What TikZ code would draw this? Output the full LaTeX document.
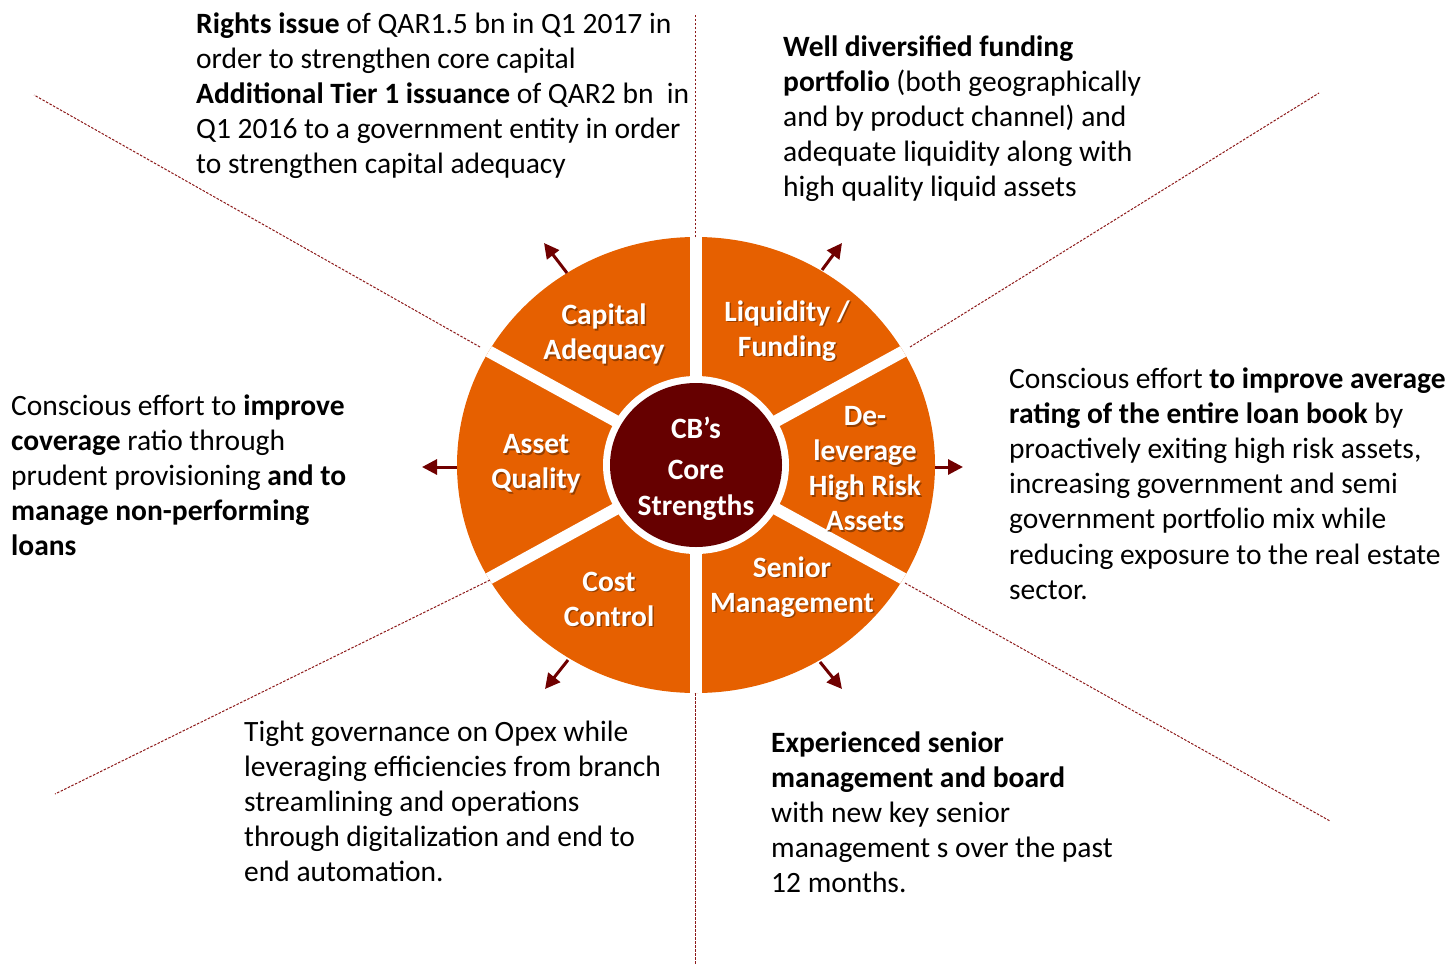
\documentclass[tikz,border=0pt]{standalone}
\usepackage{fontspec}
\setmainfont{Carlito}
\usetikzlibrary{arrows.meta}
\definecolor{orng}{RGB}{230,96,0}
\definecolor{core}{RGB}{102,0,0}
\definecolor{arr}{RGB}{112,0,0}
\definecolor{dotc}{RGB}{140,25,25}
\tikzset{
 body/.style={font=\fontsize{29.5}{35.2}\selectfont, inner sep=0pt, anchor=base west, text=black},
 seclabel/.style={font=\fontsize{29.5}{35}\selectfont\bfseries, text=white, align=center, inner sep=0pt},
 guide/.style={draw=dotc, line width=1pt, dash pattern=on 2.5pt off 1.5pt},
 outarrow/.style={draw=arr, line width=3pt, -{Triangle[length=15pt,width=15pt]}},
 gapline/.style={draw=white, line width=12pt},
}
\newcommand\seclbl[3]{%
 \node[seclabel, text=black, opacity=0.35] (#1-sh) at ([xshift=1.5pt,yshift=-1.5pt]#2) {#3};
 \node[seclabel] (#1) at (#2) {#3};}
\begin{document}
\begin{tikzpicture}[x=1pt,y=-1pt]
\useasboundingbox (0,0) rectangle (1448,967);
\coordinate (c) at (696,465);
% wheel
\fill[orng] (c) ellipse [x radius=239pt, y radius=228pt];
\begin{scope}
 \clip (c) ellipse [x radius=239pt, y radius=228pt];
 \draw[gapline] (c) -- (924,340);
 \draw[gapline] (c) -- (696,214);
 \draw[gapline] (c) -- (468,340);
 \draw[gapline] (c) -- (468,590);
 \draw[gapline] (c) -- (696,716);
 \draw[gapline] (c) -- (924,590);
\end{scope}
\fill[white] (c) ellipse [x radius=93pt, y radius=89pt];
\fill[core] (c) ellipse [x radius=86pt, y radius=82pt];
% guide lines
\coordinate (g1a) at (695,237); \coordinate (g1b) at (695,15);
\coordinate (g2a) at (695,693); \coordinate (g2b) at (695,965);
\coordinate (g3a) at (480,347); \coordinate (g3b) at (34,95);
\coordinate (g4a) at (910,347); \coordinate (g4b) at (1319,93);
\coordinate (g5a) at (490,580); \coordinate (g5b) at (55,794);
\coordinate (g6a) at (905,583); \coordinate (g6b) at (1330,821);
\foreach \i in {1,...,6} \draw[guide] (g\i a) -- (g\i b);
% arrows
\coordinate (a1t) at (567,273); \coordinate (a1h) at (544,243);
\coordinate (a2t) at (822,270); \coordinate (a2h) at (842,243);
\coordinate (a3t) at (935,467); \coordinate (a3h) at (963,467);
\coordinate (a4t) at (457,467); \coordinate (a4h) at (422,467);
\coordinate (a5t) at (568,660); \coordinate (a5h) at (545,689);
\coordinate (a6t) at (820,662); \coordinate (a6h) at (842,689);
\foreach \i in {1,...,6} \draw[outarrow] (a\i t) -- (a\i h);
% sector labels
\seclbl{cap}{604,334}{Capital\\Adequacy}
\seclbl{liq}{787,331}{Liquidity /\\Funding}
\seclbl{del}{865,469}{De-\\leverage\\High Risk\\Assets}
\seclbl{aq}{536,464}{Asset\\Quality}
\seclbl{cc}{609,599}{Cost\\Control}
\seclbl{sm}{792,587}{Senior\\Management}
\node[seclabel, font=\fontsize{29.5}{36}\selectfont\bfseries] (core) at (696,469) {CB’s\\[5pt]Core\\Strengths};
% descriptions
\node[body] (tl) at (196,33) {\begin{tabular}[t]{@{}l@{}}
\textbf{Rights issue} of QAR1.5 bn in Q1 2017 in\\
order to strengthen core capital\\
\textbf{Additional Tier 1 issuance} of QAR2 bn\ \ in\\
Q1 2016 to a government entity in order\\
to strengthen capital adequacy\end{tabular}};
\node[body] (tr) at (783,56) {\begin{tabular}[t]{@{}l@{}}
\textbf{Well diversified funding}\\
\textbf{portfolio} (both geographically\\
and by product channel) and\\
adequate liquidity along with\\
high quality liquid assets\end{tabular}};
\node[body] (lf) at (11,415) {\begin{tabular}[t]{@{}l@{}}
Conscious effort to \textbf{improve}\\
\textbf{coverage} ratio through\\
prudent provisioning \textbf{and to}\\
\textbf{manage non-performing}\\
\textbf{loans}\end{tabular}};
\node[body] (rt) at (1009,388) {\begin{tabular}[t]{@{}l@{}}
Conscious effort \textbf{to improve average}\\
\textbf{rating of the entire loan book} by\\
proactively exiting high risk assets,\\
increasing government and semi\\
government portfolio mix while\\
reducing exposure to the real estate\\
sector.\end{tabular}};
\node[body] (bl) at (244,741) {\begin{tabular}[t]{@{}l@{}}
Tight governance on Opex while\\
leveraging efficiencies from branch\\
streamlining and operations\\
through digitalization and end to\\
end automation.\end{tabular}};
\node[body] (br) at (771,752) {\begin{tabular}[t]{@{}l@{}}
\textbf{Experienced senior}\\
\textbf{management and board}\\
with new key senior\\
management s over the past\\
12 months.\end{tabular}};
\end{tikzpicture}
\end{document}
